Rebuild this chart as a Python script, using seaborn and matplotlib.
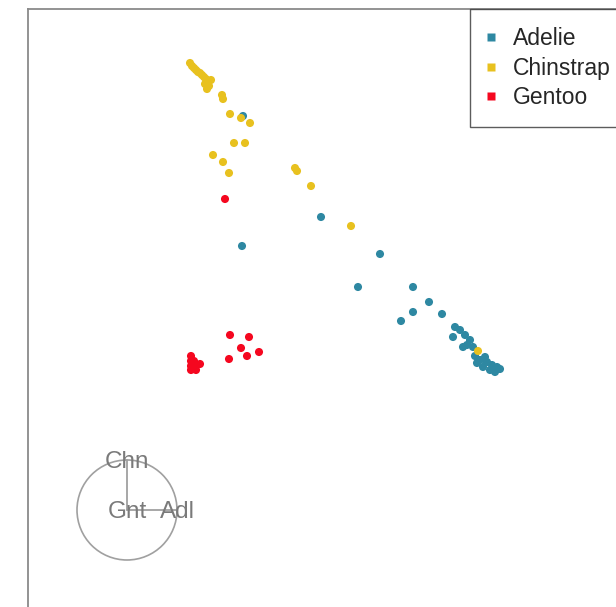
import matplotlib
matplotlib.use("Agg")
import matplotlib.pyplot as plt
from matplotlib.lines import Line2D
from matplotlib.patches import Circle
import seaborn as sns
import pandas as pd

# ---- data (projected coordinates, circle radius = 1) ----
adelie_x = [2.32, 2.30, 3.88, 5.06, 4.62, 5.72, 6.04, 5.72, 5.48, 6.30, 6.56, 6.66, 6.76, 6.52,
            6.80, 6.92, 6.72, 6.86, 7.06, 7.20, 7.30, 7.40, 7.46, 7.26, 7.12, 7.00, 7.36, 6.96, 7.16]
adelie_y = [7.88, 5.28, 5.86, 5.12, 4.46, 4.46, 4.16, 3.96, 3.78, 3.92, 3.66, 3.60, 3.50, 3.46,
            3.30, 3.26, 3.26, 3.40, 3.00, 2.96, 2.90, 2.86, 2.82, 2.80, 2.86, 2.94, 2.76, 3.08, 3.06]
chinstrap_x = [1.26, 1.30, 1.34, 1.38, 1.42, 1.46, 1.50, 1.54, 1.58, 1.62, 1.64, 1.60, 1.68, 1.56,
               1.90, 1.92, 2.06, 2.28, 2.46, 2.14, 2.36, 1.72, 1.92, 2.04, 3.36, 3.40, 3.68, 4.48, 7.02]
chinstrap_y = [8.94, 8.88, 8.84, 8.80, 8.76, 8.74, 8.70, 8.66, 8.62, 8.56, 8.48, 8.42, 8.60, 8.52,
               8.30, 8.22, 7.92, 7.84, 7.74, 7.34, 7.34, 7.10, 6.96, 6.74, 6.84, 6.78, 6.48, 5.68, 3.18]
gentoo_x = [1.96, 2.06, 2.44, 2.28, 2.40, 2.64, 2.04, 1.28, 1.28, 1.28, 1.28, 1.38, 1.46, 1.38, 1.34]
gentoo_y = [6.22, 3.50, 3.46, 3.24, 3.08, 3.16, 3.02, 3.08, 2.98, 2.88, 2.80, 2.88, 2.92, 2.80, 2.98]

species = ["Adelie", "Chinstrap", "Gentoo"]
colors = ["#2e88a2", "#e8c11f", "#f5071f"]

anchor_labels = ["Adl", "Chn", "Gnt"]
anchor_x = [1.0, 0.0, 0.0]
anchor_y = [0.0, 1.0, 0.0]

df = pd.DataFrame({
    "x": adelie_x + chinstrap_x + gentoo_x,
    "y": adelie_y + chinstrap_y + gentoo_y,
    "species": ["Adelie"] * len(adelie_x) + ["Chinstrap"] * len(chinstrap_x) + ["Gentoo"] * len(gentoo_x),
})

sns.set_theme(style="white")
plt.rcParams["font.family"] = ["Liberation Sans", "DejaVu Sans"]

W, H = 616, 607
fig = plt.figure(figsize=(W / 100, H / 100), dpi=100)
ax_l, ax_r, ax_t, ax_b = 28, 640, 9, 620
ax = fig.add_axes([ax_l / W, 1 - ax_b / H, (ax_r - ax_l) / W, (ax_b - ax_t) / H])

for sp, c in zip(species, colors):
    sub = df[df["species"] == sp]
    sns.scatterplot(data=sub, x="x", y="y", color=c, s=34, edgecolor="none",
                    linewidth=0, ax=ax, legend=False, zorder=3)

# anchor circle
ax.add_patch(Circle((0, 0), 1.0, fill=False, edgecolor="#a0a0a0", linewidth=1.2, zorder=2))
for lab, ax_x, ax_y in zip(anchor_labels, anchor_x, anchor_y):
    ax.plot([0, ax_x], [0, ax_y], color="#a0a0a0", linewidth=1.3, zorder=2)
    ax.text(ax_x, ax_y, lab, ha="center", va="center_baseline", fontsize=17.5,
            color="#7a7a7a", zorder=4)

ax.set_xlim(-1.98, 10.26)
ax.set_ylim(-2.2, 10.02)
ax.set_aspect("equal", adjustable="box")
ax.set_xticks([])
ax.set_yticks([])
ax.set_xlabel("")
ax.set_ylabel("")
for s in ax.spines.values():
    s.set_color("#8a8a8a")
    s.set_linewidth(1.3)

handles = [Line2D([0], [0], marker="s", linestyle="", markersize=6,
                  markerfacecolor=c, markeredgecolor="none") for c in colors]
leg = ax.legend(handles, species, loc="upper left",
                bbox_to_anchor=(470 / W, 1 - 9 / H), bbox_transform=fig.transFigure,
                borderaxespad=0, frameon=True, fontsize=16.5, handlelength=0.24,
                handletextpad=0.84, borderpad=0.8, labelspacing=0.27, fancybox=False)
leg.get_frame().set_edgecolor("#333333")
leg.get_frame().set_linewidth(1.0)

fig.savefig("out.png", dpi=100)
